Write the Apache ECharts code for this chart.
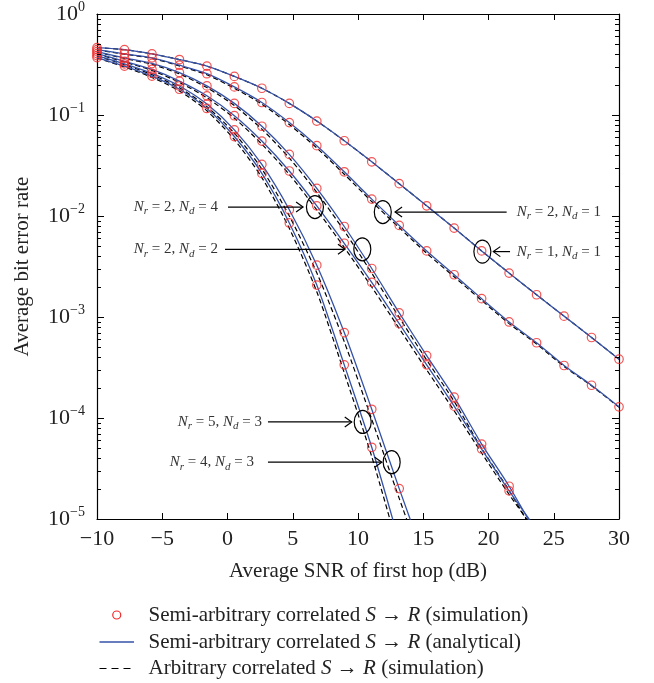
<!DOCTYPE html>
<html><head><meta charset="utf-8">
<script src="https://cdn.jsdelivr.net/npm/echarts@6/dist/echarts.min.js"></script>
<style>html,body{margin:0;padding:0;background:#fff}#c{width:654px;height:683px}</style>
</head><body><div id="c"></div>
<script>
// Average SNR of first hop (dB) sample points
const snr = [-10, -7.895, -5.789, -3.684, -1.579, 0.526, 2.632, 4.737, 6.842, 8.947, 11.053, 13.158, 15.263, 17.368, 19.474, 21.579, 23.684, 25.789, 27.895, 30];

// Semi-arbitrary correlated S->R (simulation) markers
const semiSim_N1D1 = [0.4645, 0.4436, 0.4027, 0.3540, 0.3048, 0.2410, 0.1841, 0.1303, 0.0871, 0.0556, 0.0344, 0.0209, 0.0126, 0.00759, 0.00451, 0.00272, 0.00166, 0.00102, 6.27e-4, 3.82e-4];
const semiSim_N2D1 = [0.4436, 0.4027, 0.3681, 0.3112, 0.2564, 0.1897, 0.1330, 0.0841, 0.0497, 0.0274, 0.0147, 0.00807, 0.00451, 0.00262, 0.00152, 8.93e-4, 5.56e-4, 3.31e-4, 2.11e-4, 1.29e-4];
const semiSim_N2D2 = [0.4236, 0.3681, 0.3236, 0.2624, 0.1941, 0.1303, 0.0774, 0.0407, 0.0188, 0.00787, 0.00302, 0.00110, 4.15e-4, 1.61e-4, 5.52e-5, 2.11e-5];
const semiSim_N2D4 = [0.4055, 0.3404, 0.2825, 0.2168, 0.1549, 0.0984, 0.0552, 0.0279, 0.0126, 0.00537, 0.00220, 8.59e-4, 3.36e-4, 1.31e-4, 4.93e-5, 1.90e-5];
const semiSim_N4D3 = [0.3873, 0.3206, 0.2582, 0.1936, 0.1282, 0.0713, 0.0324, 0.01153, 0.00326, 7.01e-4, 1.22e-4, 2.00e-5];
const semiSim_N5D3 = [0.3707, 0.3048, 0.2427, 0.1799, 0.1161, 0.0612, 0.0264, 0.00853, 0.00207, 3.36e-4, 5.13e-5];

// Semi-arbitrary correlated S->R (analytical) curves
const analytic_N1D1 = [0.4645, 0.4436, 0.4027, 0.3540, 0.3048, 0.2410, 0.1841, 0.1303, 0.0871, 0.0556, 0.0344, 0.0209, 0.0126, 0.00759, 0.00451, 0.00272, 0.00166, 0.00102, 6.27e-4, 3.82e-4];
const analytic_N2D1 = [0.4436, 0.4027, 0.3681, 0.3112, 0.2564, 0.1897, 0.1330, 0.0841, 0.0497, 0.0274, 0.0147, 0.00807, 0.00451, 0.00262, 0.00152, 8.93e-4, 5.56e-4, 3.31e-4, 2.11e-4, 1.29e-4];
const analytic_N2D2 = [0.4236, 0.3681, 0.3236, 0.2624, 0.1941, 0.1303, 0.0774, 0.0407, 0.0188, 0.00787, 0.00302, 0.00110, 4.15e-4, 1.61e-4, 5.52e-5, 2.11e-5, 7.1e-6];
const analytic_N2D4 = [0.4055, 0.3404, 0.2825, 0.2168, 0.1549, 0.0984, 0.0552, 0.0279, 0.0126, 0.00537, 0.00220, 8.59e-4, 3.36e-4, 1.31e-4, 4.93e-5, 1.90e-5, 7.9e-6];
const analytic_N4D3 = [0.3873, 0.3206, 0.2582, 0.1936, 0.1282, 0.0713, 0.0324, 0.01153, 0.00326, 7.01e-4, 1.22e-4, 2.00e-5, 3.5e-6];
const analytic_N5D3 = [0.3707, 0.3048, 0.2427, 0.1799, 0.1161, 0.0612, 0.0264, 0.00853, 0.00207, 3.36e-4, 5.13e-5, 5.9e-6];

// Arbitrary correlated S->R (simulation) curves
const arbSim_N1D1 = [0.4645, 0.4436, 0.4027, 0.3540, 0.3048, 0.2410, 0.1841, 0.1303, 0.0871, 0.0556, 0.0344, 0.0209, 0.0126, 0.00759, 0.00451, 0.00272, 0.00166, 0.00102, 6.27e-4, 3.82e-4];
const arbSim_N2D1 = [0.4420, 0.4000, 0.3640, 0.3060, 0.2500, 0.1840, 0.1280, 0.0805, 0.0472, 0.0259, 0.0139, 0.00765, 0.00428, 0.00250, 0.00146, 8.6e-4, 5.4e-4, 3.24e-4, 2.08e-4, 1.28e-4];
const arbSim_N2D2 = [0.4200, 0.3630, 0.3170, 0.2550, 0.1870, 0.1240, 0.0725, 0.0375, 0.0171, 0.00712, 0.00272, 9.9e-4, 3.75e-4, 1.46e-4, 5.0e-5, 1.92e-5, 6.5e-6];
const arbSim_N2D4 = [0.4020, 0.3350, 0.2760, 0.2100, 0.1480, 0.0930, 0.0515, 0.0258, 0.0115, 0.00488, 0.00198, 7.7e-4, 3.0e-4, 1.18e-4, 4.5e-5, 1.75e-5, 7.3e-6];
const arbSim_N4D3 = [0.3840, 0.3150, 0.2510, 0.1860, 0.1210, 0.0660, 0.0292, 0.0100, 0.00274, 5.7e-4, 9.7e-5, 1.6e-5, 2.8e-6];
const arbSim_N5D3 = [0.3670, 0.2990, 0.2360, 0.1730, 0.1100, 0.0570, 0.0240, 0.00755, 0.00178, 2.8e-4, 4.15e-5, 4.7e-6];

// y tick labels (exponents of 10)
const yTickExp = [0, -1, -2, -3, -4, -5];

// annotations (data coordinates)
const annotNr = ['2', '2', '2', '1', '5', '4'];
const annotNd = ['4', '2', '1', '1', '3', '3'];
const annotCenterX = [6.70, 10.33, 11.90, 19.53, 10.36, 12.58];
const annotCenterY = [0.01225, 0.00468, 0.01094, 0.00444, 9.14e-5, 3.65e-5];
const annotTailX = [0.04, -0.19, 21.39, 21.65, 3.10, 3.10];
const annotHeadX = [5.79, 9.00, 12.84, 20.37, 9.52, 11.82];
const annotTextX = [-0.73, -0.73, 22.16, 22.16, 2.64, 2.03];

// legend entries
const legendNames = ['Semi-arbitrary correlated S → R (simulation)', 'Semi-arbitrary correlated S → R (analytical)', 'Arbitrary correlated S → R (simulation)'];

const serif = '"Liberation Serif","DejaVu Serif",serif';
const BLUE = '#3552a8';
const RED = '#f02a2a';

function pts(arr) {
  const out = [];
  arr.forEach((v, i) => { if (v != null) out.push([snr[i], v]); });
  return out;
}
const sims = [semiSim_N1D1, semiSim_N2D1, semiSim_N2D2, semiSim_N2D4, semiSim_N4D3, semiSim_N5D3];
const anas = [analytic_N1D1, analytic_N2D1, analytic_N2D2, analytic_N2D4, analytic_N4D3, analytic_N5D3];
const arbs = [arbSim_N1D1, arbSim_N2D1, arbSim_N2D2, arbSim_N2D4, arbSim_N4D3, arbSim_N5D3];

const series = [];
arbs.forEach(a => series.push({
  name: legendNames[2], type: 'line', data: pts(a), symbol: 'none', smooth: 0.25,
  lineStyle: { color: '#000', width: 1.2, type: [5, 3] }, z: 2, silent: true, animation: false
}));
anas.forEach(a => series.push({
  name: legendNames[1], type: 'line', data: pts(a), symbol: 'none', smooth: 0.25,
  lineStyle: { color: BLUE, width: 1.3 }, z: 3, silent: true, animation: false
}));
sims.forEach(a => series.push({
  name: legendNames[0], type: 'scatter', data: pts(a), symbol: 'circle', symbolSize: 8.5,
  itemStyle: { color: 'rgba(0,0,0,0)', borderColor: RED, borderWidth: 1.2 }, z: 4, silent: true, animation: false
}));

const chart = echarts.init(document.getElementById('c'), null, { renderer: 'canvas' });
const axisLine = { show: true, onZero: false, lineStyle: { color: '#000', width: 1.2 } };
const option = {
  animation: false,
  backgroundColor: '#fff',
  grid: { left: 97, right: 35, top: 9, bottom: 164, containLabel: false },
  xAxis: [{
    type: 'value', min: -10, max: 30, interval: 5, position: 'bottom',
    axisLine: axisLine, splitLine: { show: false },
    axisTick: { show: true, inside: true, length: 6, lineStyle: { color: '#000' } },
    axisLabel: { margin: 9, fontFamily: serif, fontSize: 22, color: '#222',
      formatter: v => (v < 0 ? '\u2212' + Math.abs(v) : String(v)) },
    name: 'Average SNR of first hop (dB)', nameLocation: 'middle', nameGap: 42,
    nameTextStyle: { fontFamily: serif, fontSize: 21, color: '#222' }
  }, {
    type: 'value', min: -10, max: 30, interval: 5, position: 'top',
    axisLine: axisLine, splitLine: { show: false },
    axisTick: { show: true, inside: true, length: 6, lineStyle: { color: '#000' } },
    axisLabel: { show: false }
  }],
  yAxis: [{
    type: 'log', logBase: 10, min: 1e-5, max: 1, position: 'left',
    axisLine: axisLine, splitLine: { show: false },
    axisTick: { show: true, inside: true, length: 7, lineStyle: { color: '#000' } },
    axisLabel: {
      margin: 12, color: '#222',
      formatter: v => {
        const e = Math.round(Math.log10(v));
        if (yTickExp.indexOf(e) < 0) return '';
        return '{b|10}{s|' + (e < 0 ? '\u2212' + (-e) : String(e)) + '}';
      },
      rich: {
        b: { fontFamily: serif, fontSize: 22, lineHeight: 28, verticalAlign: 'middle', color: '#222' },
        s: { fontFamily: serif, fontSize: 14, lineHeight: 14, verticalAlign: 'top', color: '#222' }
      }
    },
    name: 'Average bit error rate', nameLocation: 'middle', nameGap: 64, nameRotate: 90,
    nameTextStyle: { fontFamily: serif, fontSize: 21, color: '#222' }
  }, {
    type: 'log', logBase: 10, min: 1e-5, max: 1, position: 'right',
    axisLine: axisLine, splitLine: { show: false },
    axisTick: { show: true, inside: true, length: 7, lineStyle: { color: '#000' } },
    axisLabel: { show: false }
  }],
  series: series
};
chart.setOption(option);

// minor log ticks, annotations and legend, placed through the axes' scales
function P(x, y) { return chart.convertToPixel({ gridIndex: 0 }, [x, y]); }
const g = [];
function seg(x1, y1, x2, y2, w, dash, color) {
  g.push({ type: 'line', shape: { x1, y1, x2, y2 }, style: { stroke: color || '#000', lineWidth: w || 1, lineDash: dash || null }, silent: true, z: 10 });
}
const xl = P(-10, 1)[0], xr = P(30, 1)[0];
for (let d = -5; d < 0; d++) {
  for (let k = 2; k <= 9; k++) {
    const y = Math.round(P(0, k * Math.pow(10, d))[1]) + 0.5;
    seg(xl, y, xl + 4, y, 1);
    seg(xr, y, xr - 4, y, 1);
  }
}
for (let i = 0; i < annotNr.length; i++) {
  const c = P(annotCenterX[i], annotCenterY[i]);
  const cy = c[1];
  const tx = P(annotTailX[i], annotCenterY[i])[0];
  const hx = P(annotHeadX[i], annotCenterY[i])[0];
  const txt = P(annotTextX[i], annotCenterY[i])[0];
  g.push({ type: 'ellipse', shape: { cx: c[0], cy: cy, rx: 8.5, ry: 11.5 }, style: { fill: 'none', stroke: '#000', lineWidth: 1.2 }, silent: true, z: 10 });
  seg(tx, cy, hx, cy, 1.2);
  const dir = hx > tx ? 1 : -1;
  g.push({ type: 'polyline', shape: { points: [[hx - dir * 7, cy - 5], [hx, cy], [hx - dir * 7, cy + 5]] }, style: { fill: 'none', stroke: '#000', lineWidth: 1.2 }, silent: true, z: 10 });
  g.push({
    type: 'text', x: txt, y: cy, silent: true, z: 10,
    style: {
      text: '{i|N}{s|r}{n| = ' + annotNr[i] + ', }{i|N}{s|d}{n| = ' + annotNd[i] + '}',
      align: hx > tx ? 'right' : 'left', verticalAlign: 'middle',
      rich: {
        i: { fontFamily: serif, fontStyle: 'italic', fontSize: 15, lineHeight: 20, verticalAlign: 'middle', fill: '#333' },
        n: { fontFamily: serif, fontSize: 15, lineHeight: 20, verticalAlign: 'middle', fill: '#333' },
        s: { fontFamily: serif, fontStyle: 'italic', fontSize: 11, lineHeight: 10, verticalAlign: 'bottom', fill: '#333' }
      }
    }
  });
}
// legend (drawn below the plot)
const legX0 = 99.5, legX1 = 134, legTextX = 148.5, legY = [615, 642, 668.5];
g.push({ type: 'circle', shape: { cx: (legX0 + legX1) / 2, cy: legY[0], r: 4 }, style: { fill: 'none', stroke: RED, lineWidth: 1.2 }, silent: true });
seg(legX0, legY[1], legX1, legY[1], 1.3, null, BLUE);
seg(legX0, legY[2], legX1, legY[2], 1.2, [7, 5], '#000');
legendNames.forEach((name, i) => {
  const parts = name.split(' S → R ');
  g.push({
    type: 'text', x: legTextX, y: legY[i], silent: true,
    style: {
      text: '{t|' + parts[0] + ' }{i|S}{t| → }{i|R}{t| ' + parts[1] + '}',
      align: 'left', verticalAlign: 'middle',
      rich: {
        t: { fontFamily: serif, fontSize: 21, fill: '#222', lineHeight: 22 },
        i: { fontFamily: serif, fontSize: 21, fontStyle: 'italic', fill: '#222', lineHeight: 22 }
      }
    }
  });
});
chart.setOption({ graphic: { elements: g } });
</script>
</body></html>
